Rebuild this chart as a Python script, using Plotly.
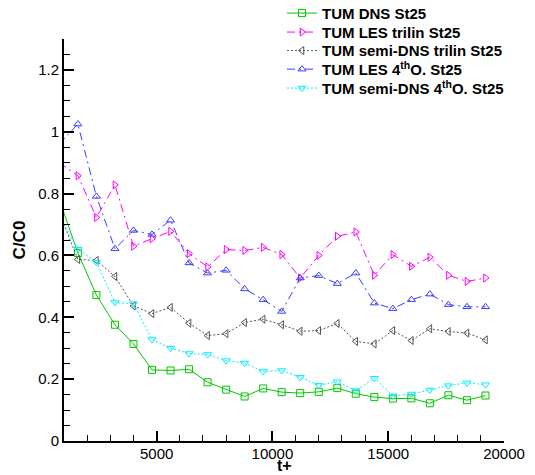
import plotly.graph_objects as go

t_plus = [800, 1600, 2400, 3200, 4000, 4800, 5600, 6400, 7200, 8000, 8800, 9600,
          10400, 11200, 12000, 12800, 13600, 14400, 15200, 16000, 16800, 17600, 18400, 19200]

dns_st25 = [0.78, 0.608, 0.472, 0.376, 0.314, 0.230, 0.228, 0.232, 0.190, 0.166, 0.144, 0.170,
            0.158, 0.155, 0.159, 0.171, 0.153, 0.142, 0.137, 0.138, 0.122, 0.148, 0.132, 0.147]
les_trilin_st25 = [0.90, 0.858, 0.723, 0.828, 0.630, 0.654, 0.678, 0.606, 0.563, 0.619, 0.616, 0.626,
                   0.603, 0.527, 0.600, 0.662, 0.676, 0.536, 0.603, 0.565, 0.594, 0.536, 0.516, 0.527]
semi_dns_trilin_st25 = [0.738, 0.587, 0.584, 0.532, 0.437, 0.412, 0.432, 0.381, 0.341, 0.347, 0.383, 0.394,
                        0.376, 0.355, 0.357, 0.380, 0.322, 0.314, 0.357, 0.325, 0.363, 0.354, 0.349, 0.327]
les_4th_st25 = [0.96, 1.025, 0.791, 0.622, 0.681, 0.668, 0.714, 0.576, 0.543, 0.552, 0.492, 0.457,
                0.419, 0.527, 0.535, 0.509, 0.543, 0.446, 0.428, 0.457, 0.475, 0.441, 0.434, 0.434]
semi_dns_4th_st25 = [0.727, 0.620, 0.578, 0.448, 0.444, 0.328, 0.300, 0.283, 0.280, 0.260, 0.252, 0.225,
                     0.228, 0.206, 0.180, 0.192, 0.163, 0.203, 0.146, 0.152, 0.165, 0.179, 0.188, 0.182]

names = ["TUM DNS St25", "TUM LES trilin St25", "TUM semi-DNS trilin St25",
         "TUM LES 4<sup>th</sup>O. St25", "TUM semi-DNS 4<sup>th</sup>O. St25"]
series = [dns_st25, les_trilin_st25, semi_dns_trilin_st25, les_4th_st25, semi_dns_4th_st25]
colors = ["#00C800", "#FF00FF", "#555555", "#3C3CFF", "#00F0FF"]
dashes = ["solid", "8px,4px,2px,4px", "2px,2px", "8px,4px,2px,4px", "2px,2px"]
symbols = ["square-open", "triangle-right-open", "triangle-left-open", "triangle-up-open", "triangle-down-open"]
legend_ids = ["legend", "legend2", "legend3", "legend4", "legend5"]
legend_rows_px = [13.3, 32.3, 50.8, 69.4, 88.3]

FONT = "Liberation Sans, Arial, sans-serif"
W, H = 535, 475
M_L, M_R, M_T, M_B = 64, 31, 39, 34

fig = go.Figure()
for name, ys, c, d, s, lg in zip(names, series, colors, dashes, symbols, legend_ids):
    fig.add_trace(go.Scatter(
        x=t_plus, y=ys, name=name, mode="lines+markers",
        line=dict(color=c, width=1, dash=d),
        marker=dict(symbol=s, size=7, color=c, line=dict(color=c, width=1)),
        legend=lg, showlegend=True,
    ))

layout_legends = {}
for lg, py in zip(legend_ids, legend_rows_px):
    layout_legends[lg] = dict(
        x=282 / W, xref="container", xanchor="left",
        y=1 - py / H, yref="container", yanchor="middle",
        bgcolor="rgba(0,0,0,0)", borderwidth=0,
        font=dict(family=FONT, size=15, color="black", weight="bold"),
    )

fig.update_layout(
    width=W, height=H, showlegend=True,
    margin=dict(l=M_L, r=M_R, t=M_T, b=M_B, pad=0, autoexpand=False),
    plot_bgcolor="white", paper_bgcolor="white",
    font=dict(family=FONT, size=15, color="black"),
    annotations=[dict(
        text="<b>t+</b>", x=0.5, xref="paper", xanchor="center",
        y=-M_B / (H - M_T - M_B), yref="paper", yanchor="bottom", yshift=0,
        showarrow=False, borderpad=0,
        font=dict(family=FONT, size=16, color="black"),
    )],
    **layout_legends,
)

fig.update_xaxes(
    range=[1000, 20000], tick0=0, dtick=5000, tickformat="d",
    showline=True, linecolor="black", linewidth=2,
    ticks="inside", ticklen=10, tickwidth=2, tickcolor="black",
    ticklabelstandoff=-2,
    minor=dict(dtick=1000, ticks="inside", ticklen=6, tickwidth=1, tickcolor="black"),
    showgrid=False, zeroline=False, automargin=False,
    tickfont=dict(family=FONT, size=15, color="black"),
)
fig.update_yaxes(
    range=[0, 1.3], tick0=0, dtick=0.2,
    showline=True, linecolor="black", linewidth=2,
    ticks="inside", ticklen=10, tickwidth=2, tickcolor="black",
    minor=dict(dtick=0.05, ticks="inside", ticklen=6, tickwidth=1, tickcolor="black"),
    showgrid=False, zeroline=False, automargin=True,
    tickfont=dict(family=FONT, size=15, color="black"),
    title=dict(text="C/C0", font=dict(family=FONT, size=17, color="black", weight="bold"), standoff=8),
)

fig.write_html("out.html")
